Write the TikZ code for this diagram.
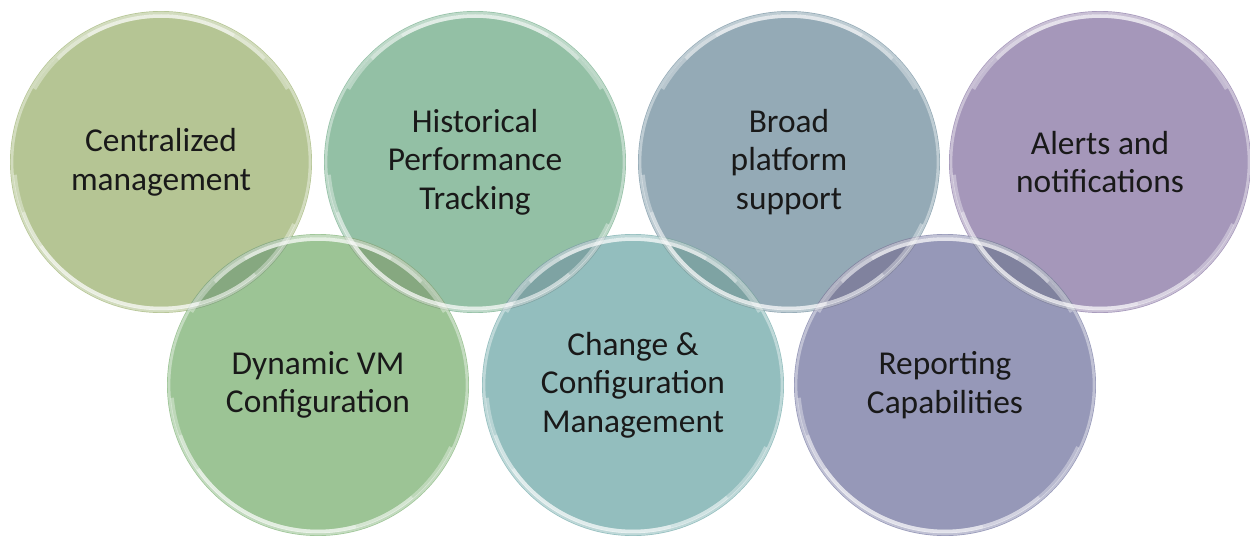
\documentclass[tikz,border=0pt]{standalone}
\usepackage{fontspec}
\setmainfont{Carlito}
\usepackage{tikz}

\definecolor{cmgreen}{HTML}{B5C594}
\definecolor{histgreen}{HTML}{93C0A5}
\definecolor{broadblue}{HTML}{94AAB6}
\definecolor{alertpurple}{HTML}{A597BA}
\definecolor{dyngreen}{HTML}{9CC495}
\definecolor{changeteal}{HTML}{93BEBE}
\definecolor{reportblue}{HTML}{9698B8}

\begin{document}
\begin{tikzpicture}
  [x=0.02cm, y=-0.02cm,
   bubble/.style={circle, minimum size=6.04cm, inner sep=0pt, align=center,
     font=\fontsize{19}{22}\selectfont, text=black!90},
   lens/.style={fill opacity=0.4},
   rim/.style={white, line width=1.5pt, opacity=0.4},
   shine/.style={white, line width=2pt, opacity=0.35}]
  \useasboundingbox (0,0) rectangle (1250,537);
  % top row
  \node[bubble, fill=cmgreen] (cm) at (161,162) {Centralized\\management};
  \node[bubble, fill=histgreen] (hpt) at (475,162) {Historical\\Performance\\Tracking};
  \node[bubble, fill=broadblue] (bps) at (789,162) {Broad\\platform\\support};
  \node[bubble, fill=alertpurple] (an) at (1100,162) {Alerts and\\notifications};
  % bottom row
  \node[bubble, fill=dyngreen] (dvm) at (318,385) {Dynamic VM\\Configuration};
  \node[bubble, fill=changeteal] (ccm) at (633,385) {Change \&\\Configuration\\Management};
  \node[bubble, fill=reportblue] (rc) at (945,385) {Reporting\\Capabilities};
  % overlaps
  \begin{scope}
    \clip (cm.center) circle [radius=3.02cm];
    \fill[lens, dyngreen!65!black] (dvm.center) circle [radius=3.02cm];
  \end{scope}
  \begin{scope}
    \clip (hpt.center) circle [radius=3.02cm];
    \fill[lens, dyngreen!65!black] (dvm.center) circle [radius=3.02cm];
    \fill[lens, changeteal!65!black] (ccm.center) circle [radius=3.02cm];
  \end{scope}
  \begin{scope}
    \clip (bps.center) circle [radius=3.02cm];
    \fill[lens, changeteal!65!black] (ccm.center) circle [radius=3.02cm];
    \fill[lens, reportblue!65!black] (rc.center) circle [radius=3.02cm];
  \end{scope}
  \begin{scope}
    \clip (an.center) circle [radius=3.02cm];
    \fill[lens, reportblue!65!black] (rc.center) circle [radius=3.02cm];
  \end{scope}
  % glossy rims
  \foreach \n in {cm,hpt,bps,an,dvm,ccm,rc} {
    \draw[rim] (\n.center) circle [radius=2.98cm];
    \foreach \a/\b in {150/30,135/45,120/60} {
      \draw[shine] ([shift={(\a:2.92cm)}]\n.center) arc [start angle=\a, end angle=\b, radius=2.92cm];
    }
    \foreach \a/\b in {185/335,200/310,215/285} {
      \draw[shine] ([shift={(\a:2.93cm)}]\n.center) arc [start angle=\a, end angle=\b, radius=2.93cm];
    }
  }
\end{tikzpicture}
\end{document}
